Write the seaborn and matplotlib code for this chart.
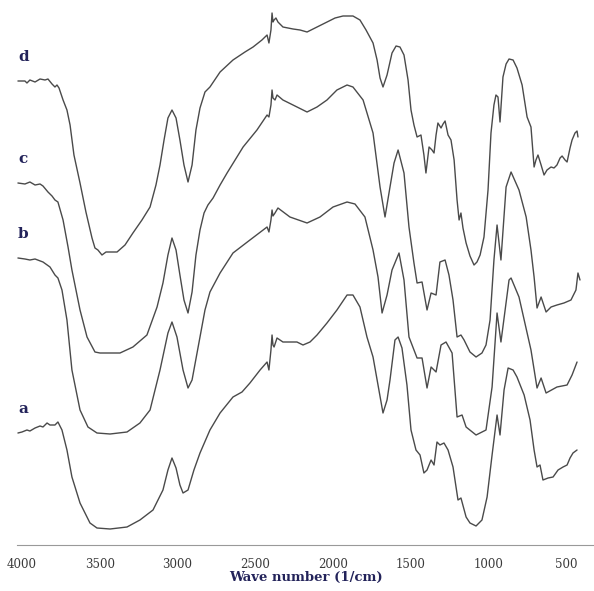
import numpy as np
import pandas as pd
import matplotlib
matplotlib.use("Agg")
import matplotlib.pyplot as plt
from matplotlib.ticker import MultipleLocator
import seaborn as sns

# FTIR spectra, transmittance in arbitrary units (already stacked as in the figure)
wn_a = [4026, 4000, 3968, 3949, 3916, 3884, 3865, 3839, 3820, 3788, 3769, 3743, 3711, 3679, 3627,
        3563, 3518, 3434, 3325, 3242, 3158, 3094, 3062, 3036, 3010, 2985, 2965, 2933, 2895, 2856,
        2792, 2727, 2644, 2586, 2535, 2470, 2425, 2413, 2400, 2393, 2387, 2380, 2361, 2323, 2233,
        2194, 2149, 2104, 2040, 1976, 1911, 1873, 1828, 1783, 1744, 1712, 1680, 1654, 1635, 1603,
        1583, 1558, 1526, 1500, 1468, 1442, 1417, 1397, 1371, 1352, 1333, 1314, 1288, 1262, 1230,
        1198, 1179, 1146, 1121, 1082, 1044, 1011, 979, 947, 928, 902, 876, 844, 819, 773,
        735, 709, 690, 671, 652, 619, 587, 555, 523, 497, 478, 459, 433]
t_a = [112, 113, 115, 114, 117, 119, 118, 122, 120, 120, 123, 115, 95, 68, 42,
       22, 17, 16, 18, 25, 35, 55, 75, 87, 77, 60, 52, 55, 75, 92,
       115, 132, 148, 153, 162, 175, 183, 175, 195, 210, 200, 198, 207, 203, 203,
       200, 203, 210, 222, 235, 250, 250, 238, 208, 188, 160, 132, 145, 165, 205,
       208, 197, 160, 115, 95, 90, 72, 75, 85, 80, 103, 100, 102, 95, 78,
       45, 47, 28, 22, 19, 25, 48, 90, 130, 110, 155, 177, 175, 168, 150,
       125, 95, 78, 80, 65, 67, 68, 75, 78, 80, 87, 92, 95]

wn_b = [4026, 3981, 3949, 3916, 3865, 3820, 3788, 3769, 3743, 3711, 3679, 3627, 3576, 3518, 3434,
        3325, 3242, 3177, 3113, 3062, 3036, 3004, 2965, 2933, 2907, 2875, 2856, 2824, 2792, 2727,
        2644, 2535, 2425, 2413, 2400, 2393, 2387, 2374, 2355, 2278, 2168, 2085, 2001, 1911, 1860,
        1796, 1744, 1712, 1686, 1654, 1622, 1577, 1545, 1513, 1461, 1429, 1397, 1371, 1339, 1307,
        1275, 1236, 1204, 1172, 1146, 1082, 1018, 979, 947, 922, 870, 857, 806, 729, 690,
        664, 632, 562, 497, 465, 433]
t_b = [287, 286, 285, 286, 283, 278, 270, 267, 255, 225, 175, 135, 118, 112, 111,
       113, 122, 135, 175, 212, 223, 208, 175, 157, 165, 192, 208, 235, 253, 272,
       292, 305, 318, 313, 325, 335, 329, 332, 337, 328, 322, 328, 338, 343, 341,
       328, 295, 268, 232, 250, 275, 292, 265, 208, 187, 187, 157, 178, 173, 200,
       203, 192, 128, 130, 118, 110, 115, 158, 232, 203, 265, 267, 248, 195, 157,
       167, 152, 158, 160, 170, 183]

wn_c = [4026, 3981, 3949, 3916, 3884, 3865, 3833, 3807, 3788, 3769, 3736, 3704, 3679, 3627, 3582,
        3531, 3499, 3370, 3287, 3197, 3132, 3094, 3062, 3036, 3010, 2985, 2959, 2933, 2907, 2882,
        2856, 2830, 2805, 2772, 2727, 2682, 2579, 2490, 2425, 2413, 2400, 2393, 2387, 2374, 2361,
        2323, 2297, 2168, 2104, 2040, 1976, 1911, 1873, 1808, 1744, 1699, 1667, 1635, 1609, 1583,
        1545, 1513, 1481, 1461, 1429, 1397, 1371, 1339, 1314, 1281, 1256, 1230, 1204, 1179, 1159,
        1121, 1082, 1044, 1018, 992, 967, 947, 922, 889, 857, 806, 760, 729, 709, 690,
        664, 632, 600, 562, 517, 472, 440, 427, 414]
t_c = [362, 361, 363, 360, 361, 359, 353, 349, 345, 343, 325, 298, 275, 235, 208,
       193, 192, 192, 198, 210, 238, 262, 290, 307, 295, 270, 245, 232, 253, 290,
       315, 332, 340, 347, 360, 372, 398, 415, 430, 428, 440, 455, 447, 445, 450,
       445, 443, 433, 438, 445, 455, 460, 458, 445, 412, 358, 328, 358, 382, 395,
       372, 318, 282, 262, 263, 235, 252, 250, 283, 285, 270, 245, 208, 210, 205,
       193, 188, 192, 200, 225, 285, 320, 285, 358, 373, 355, 328, 295, 268, 237,
       248, 233, 238, 240, 242, 245, 255, 272, 265]

wn_d = [4026, 3981, 3968, 3949, 3916, 3884, 3852, 3833, 3807, 3788, 3775, 3762, 3736, 3711, 3691,
        3666, 3627, 3589, 3550, 3531, 3512, 3486, 3460, 3389, 3338, 3287, 3229, 3177, 3139, 3113,
        3087, 3062, 3036, 3010, 2985, 2959, 2933, 2907, 2882, 2856, 2824, 2792, 2727, 2644, 2567,
        2515, 2458, 2425, 2413, 2400, 2393, 2387, 2380, 2368, 2355, 2323, 2258, 2213, 2168, 2117,
        2040, 1988, 1937, 1873, 1828, 1789, 1744, 1718, 1699, 1680, 1654, 1622, 1596, 1571, 1545,
        1519, 1500, 1481, 1461, 1436, 1417, 1404, 1384, 1365, 1352, 1339, 1327, 1307, 1294, 1281,
        1262, 1243, 1223, 1204, 1191, 1179, 1166, 1146, 1121, 1095, 1076, 1056, 1031, 1005, 986,
        967, 954, 941, 928, 909, 889, 870, 844, 819, 786, 754, 729, 709, 697, 684,
        664, 645, 626, 600, 581, 562, 542, 529, 510, 497, 478, 465, 446, 433, 427]
t_d = [464, 464, 462, 465, 463, 466, 465, 466, 461, 458, 460, 457, 445, 435, 420,
       390, 362, 333, 307, 297, 295, 290, 293, 293, 300, 312, 325, 338, 360, 380,
       405, 427, 435, 427, 405, 380, 363, 380, 415, 437, 453, 458, 473, 485, 493,
       498, 505, 510, 502, 515, 532, 523, 525, 527, 523, 518, 516, 515, 513, 517,
       523, 527, 529, 529, 525, 515, 502, 485, 467, 458, 470, 492, 499, 498, 490,
       465, 435, 420, 408, 410, 390, 372, 398, 395, 392, 410, 422, 417, 421, 424,
       410, 405, 385, 345, 325, 332, 317, 302, 289, 280, 283, 290, 308, 355, 412,
       440, 450, 448, 423, 468, 481, 486, 485, 477, 460, 428, 418, 378, 385, 390,
       380, 370, 375, 378, 377, 380, 387, 389, 385, 383, 397, 405, 412, 414, 408]

names = ["a", "b", "c", "d"]
spectra = [(wn_a, t_a), (wn_b, t_b), (wn_c, t_c), (wn_d, t_d)]

df = pd.concat(
    [pd.DataFrame({"wn": w, "T": t, "sample": n}) for n, (w, t) in zip(names, spectra)],
    ignore_index=True,
)

sns.set_style("white")
plt.rcParams["font.family"] = ["DejaVu Serif"]

fig = plt.figure(figsize=(5.94, 5.91), dpi=100)
ax = fig.add_axes([17 / 594, 46 / 591, 577 / 594, 545 / 591])

for n in names:
    sub = df[df["sample"] == n]
    sns.lineplot(data=sub, x="wn", y="T", ax=ax, color="#4a4a4a", linewidth=1.0,
                 estimator=None, sort=False, legend=False)
    # sample letter just above the start of each trace
    ax.text(sub["wn"].iloc[0], sub["T"].iloc[0] + 24, n, fontsize=11,
            fontweight="bold", color="#23235a", ha="left", va="center")

ax.set_xlim(4032, 324)
ax.set_ylim(0, 545)
ax.xaxis.set_minor_locator(MultipleLocator(100))
ax.set_xticks(np.arange(4000, 499, -500))
ax.tick_params(axis="x", which="major", direction="inout", length=5, width=0.8,
               color="#888888", labelsize=8.5, labelcolor="#3a3a3a", pad=7)
ax.tick_params(axis="x", which="minor", direction="inout", length=3, width=0.6,
               color="#999999")
ax.set_yticks([])
for s in ["top", "right", "left"]:
    ax.spines[s].set_visible(False)
ax.spines["bottom"].set_color("#999999")
ax.spines["bottom"].set_linewidth(0.8)

ax.set_xlabel("Wave number (1/cm)", fontsize=9.5, fontweight="bold", color="#23235a",
              labelpad=0)
ax.set_ylabel("")

fig.savefig("out.png", dpi=100)
